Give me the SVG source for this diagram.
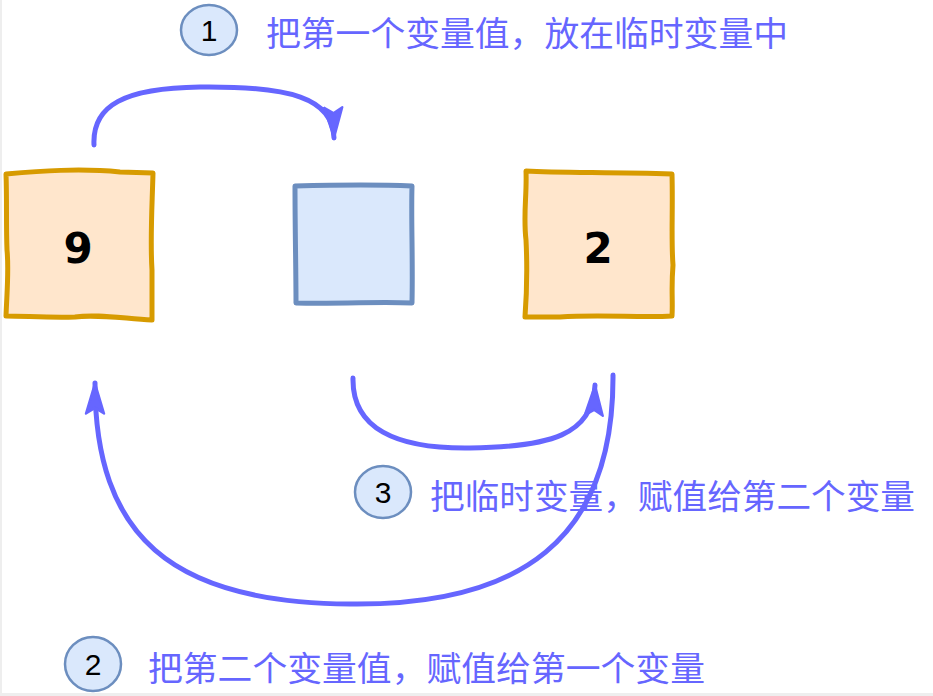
<svg xmlns="http://www.w3.org/2000/svg" width="933" height="696" viewBox="0 0 933 696">
<style>
.lbl{font-family:"Noto Sans CJK SC","Liberation Sans",sans-serif;font-size:34px;fill:#6666ff}
.num{font-family:"Liberation Sans",Arial,sans-serif;font-size:30px;fill:#000;text-anchor:middle}
.big{font-family:"DejaVu Sans","Liberation Sans",sans-serif;font-weight:bold;font-size:42px;fill:#000;text-anchor:middle}
.circ{fill:#dae8fc;stroke:#6c8ebf;stroke-width:2.5}
.orange{fill:#ffe6cc;stroke:#d79b00;stroke-width:5;stroke-linejoin:round}
.blue{fill:#dae8fc;stroke:#6c8ebf;stroke-width:5;stroke-linejoin:round}
.edge{fill:none;stroke:#6666ff;stroke-width:5;stroke-linecap:round}
</style>
<defs>
<marker id="ah" markerUnits="userSpaceOnUse" markerWidth="34" markerHeight="22" refX="28" refY="9" orient="auto" viewBox="0 0 30 18">
<path d="M1,1 L28,9 L1,17 L6,9 Z" fill="#6666ff" stroke="#6666ff" stroke-width="2" stroke-linejoin="round"/>
</marker>
</defs>
<rect x="0" y="0" width="933" height="696" fill="#ffffff"/>
<rect x="0" y="0" width="2" height="696" fill="#eeeeee"/>
<rect x="0" y="693" width="933" height="3" fill="#eeeeee"/>
<g id="edges">
<path class="edge" d="M94,145 C92,105 125,88 200,87 C290,86 333,98 334,138" marker-end="url(#ah)"/>
<path class="edge" d="M353,378 C352,428 395,449 470,448 C550,447 593,435 595,385" marker-end="url(#ah)"/>
<path class="edge" d="M613,375 C614,540 520,606 350,604 C170,603 95,535 95,383" marker-end="url(#ah)"/>
</g>
<g id="box9">
<path class="orange" d="M6,174 C40,171 80,168 120,172 L153,173 C152,210 150,240 152,270 L152,320 C120,318 95,314 75,317 C50,318 25,316 6,316 C7,290 9,270 7,250 C6,225 7,200 6,174 Z"/>
<text class="big" x="78" y="263">9</text>
</g>
<g id="tmp">
<path class="blue" d="M295,186 C330,185 370,184 412,186 C411,220 413,260 412,303 C380,301 350,304 296,303 C296,270 295,230 295,186 Z"/>
</g>
<g id="box2">
<path class="orange" d="M526,171 C560,173 610,172 672,174 C673,210 671,240 673,265 C671,290 673,300 672,316 C640,318 600,314 560,317 L525,317 C527,290 527,260 526,240 C523,215 527,195 526,171 Z"/>
<text class="big" x="598" y="263">2</text>
</g>
<g id="step1">
<ellipse class="circ" cx="209" cy="30" rx="28" ry="25"/>
<text class="num" x="209" y="41">1</text>
<text class="lbl" x="266" y="46" textLength="522" lengthAdjust="spacingAndGlyphs">把第一个变量值，放在临时变量中</text>
</g>
<g id="step3">
<ellipse class="circ" cx="383" cy="492" rx="28" ry="26"/>
<text class="num" x="383" y="503">3</text>
<text class="lbl" x="430" y="509" textLength="485" lengthAdjust="spacingAndGlyphs">把临时变量，赋值给第二个变量</text>
</g>
<g id="step2">
<ellipse class="circ" cx="93" cy="664" rx="28" ry="27"/>
<text class="num" x="93" y="675">2</text>
<text class="lbl" x="148" y="681" textLength="557" lengthAdjust="spacingAndGlyphs">把第二个变量值，赋值给第一个变量</text>
</g>
</svg>
